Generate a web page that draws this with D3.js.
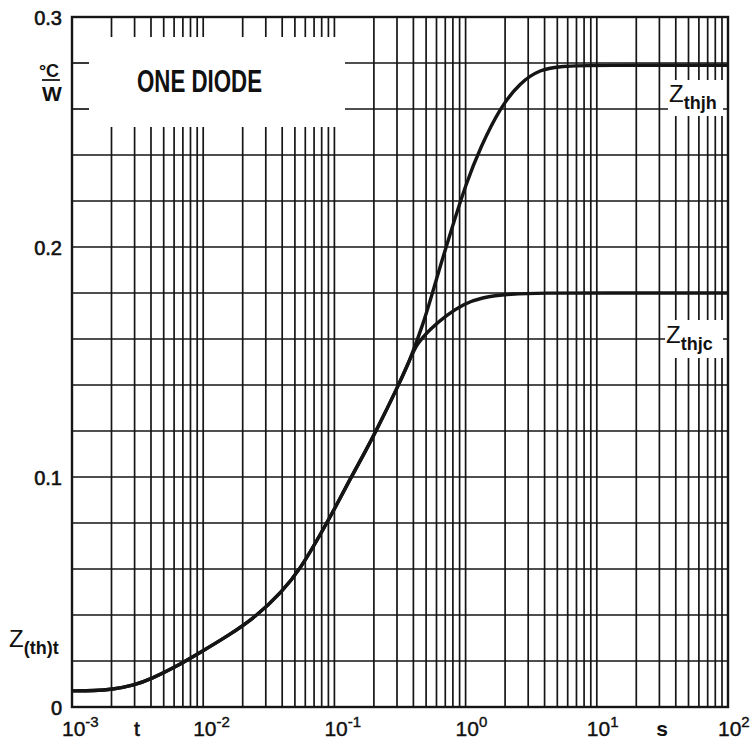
<!DOCTYPE html>
<html>
<head>
<meta charset="utf-8">
<script src="https://cdn.jsdelivr.net/npm/d3@7"></script>
<style>
  body { margin: 0; background: #fff; }
  text { font-family: "Liberation Sans", Arial, Helvetica, sans-serif; fill: #111; }
</style>
</head>
<body>
<svg width="753" height="745"></svg>
<script>
// curve values (t in s, Z in °C/W)
const timeShared = [0.001, 0.0015, 0.002, 0.003, 0.004, 0.006, 0.01, 0.015, 0.025, 0.04, 0.055, 0.08, 0.1, 0.13, 0.17, 0.21, 0.3, 0.38];
const zShared = [0.0070, 0.0071, 0.0076, 0.0095, 0.0122, 0.0170, 0.0245, 0.0305, 0.0390, 0.0502, 0.0600, 0.0760, 0.0860, 0.0985, 0.1105, 0.1205, 0.1385, 0.1515];

const timeJc = [0.42, 0.54, 0.72, 0.97, 1.3, 2.2, 4, 10, 100];
const zthjc = [0.1575, 0.1645, 0.1705, 0.1752, 0.178, 0.1797, 0.18, 0.18, 0.18];

const timeJh = [0.42, 0.47, 0.54, 0.65, 0.8, 1.0, 1.3, 1.85, 2.6, 3.7, 5.3, 10, 100];
const zthjh = [0.1585, 0.166, 0.177, 0.193, 0.2095, 0.227, 0.2435, 0.261, 0.2715, 0.2772, 0.2787, 0.279, 0.279];

const yLabels = [0, 0.1, 0.2, 0.3];
const xDecades = [-3, -2, -1, 0, 1, 2];

var svg = d3.select("svg");
var mLeft = 72, mRight = 728, mTop = 17, mBottom = 707;

var x = d3.scaleLog().domain([1e-3, 1e2]).range([mLeft, mRight]);
var y = d3.scaleLinear().domain([0, 0.3]).range([mBottom, mTop]);

var ink = "#151515";

// grid
var grid = svg.append("g").attr("stroke", ink).attr("stroke-width", 1.7);
grid.selectAll(".v")
    .data(x.ticks())
    .enter()
    .append("line")
    .attr("x1", d => x(d)).attr("x2", d => x(d))
    .attr("y1", mTop).attr("y2", mBottom);
grid.selectAll(".h")
    .data(y.ticks(15))
    .enter()
    .append("line")
    .attr("x1", mLeft).attr("x2", mRight)
    .attr("y1", d => y(d)).attr("y2", d => y(d));

// white patches behind the title and the curve labels
var boxTitle = { x: mLeft, y: mTop, w: 273, h: 110 };
svg.append("rect").attr("x", boxTitle.x).attr("y", boxTitle.y)
    .attr("width", boxTitle.w).attr("height", boxTitle.h).attr("fill", "#fff");
svg.append("rect").attr("x", 668).attr("y", 80).attr("width", 55).attr("height", 36).attr("fill", "#fff");
svg.append("rect").attr("x", 665).attr("y", 320).attr("width", 58).attr("height", 38).attr("fill", "#fff");

// short ticks along the border inside the title patch
var ticks = svg.append("g").attr("stroke", ink).attr("stroke-width", 1.7);
ticks.selectAll("line.tx")
    .data(x.ticks().filter(d => x(d) > mLeft + 2 && x(d) < boxTitle.x + boxTitle.w))
    .enter()
    .append("line")
    .attr("x1", d => x(d)).attr("x2", d => x(d))
    .attr("y1", mTop).attr("y2", mTop + 20);
ticks.selectAll("line.ty")
    .data(y.ticks(15).filter(d => y(d) > mTop + 2 && y(d) < boxTitle.y + boxTitle.h))
    .enter()
    .append("line")
    .attr("x1", mLeft).attr("x2", mLeft + 17)
    .attr("y1", d => y(d)).attr("y2", d => y(d));

// frame
svg.append("rect")
    .attr("x", mLeft).attr("y", mTop)
    .attr("width", mRight - mLeft).attr("height", mBottom - mTop)
    .attr("fill", "none").attr("stroke", ink).attr("stroke-width", 2.4);

// curves
var line = d3.line()
    .x(d => x(d[0]))
    .y(d => y(d[1]))
    .curve(d3.curveBasis);

var shared = d3.zip(timeShared, zShared);
var jc = shared.concat(d3.zip(timeJc, zthjc));
var jh = shared.concat(d3.zip(timeJh, zthjh));

svg.selectAll("path.curve")
    .data([jc, jh])
    .enter()
    .append("path")
    .attr("d", line)
    .attr("fill", "none")
    .attr("stroke", ink)
    .attr("stroke-width", 3.4)
    .attr("stroke-linejoin", "round");

// y labels
svg.selectAll("text.yl")
    .data(yLabels)
    .enter()
    .append("text")
    .attr("x", 62)
    .attr("y", d => y(d) + 8)
    .attr("text-anchor", "end")
    .style("font-size", "20px")
    .style("stroke", "#111").style("stroke-width", 0.6)
    .text(d => d === 0 ? "0" : d.toFixed(1));

// x labels 10^n
var xl = svg.selectAll("text.xl")
    .data(xDecades)
    .enter()
    .append("text")
    .attr("x", d => x(Math.pow(10, d)) - 10)
    .attr("y", 736)
    .style("font-size", "21px")
    .style("stroke", "#111").style("stroke-width", 0.4);
xl.append("tspan").text("10");
xl.append("tspan").attr("dy", -9).style("font-size", "15px").text(d => d);

svg.append("text").attr("x", 137).attr("y", 736).attr("text-anchor", "middle")
    .style("font-size", "21px").style("stroke", "#111").style("stroke-width", 0.6).text("t");
svg.append("text").attr("x", 662).attr("y", 736).attr("text-anchor", "middle")
    .style("font-size", "21px").style("font-weight", "bold").text("s");

// unit °C / W
svg.append("text").attr("x", 49).attr("y", 77).attr("text-anchor", "middle")
    .style("font-size", "18px").style("font-weight", "bold").text("°C");
svg.append("line").attr("x1", 42).attr("x2", 60).attr("y1", 80).attr("y2", 80)
    .attr("stroke", ink).attr("stroke-width", 1.8);
svg.append("text").attr("x", 52).attr("y", 101).attr("text-anchor", "middle")
    .style("font-size", "21px").style("font-weight", "bold").text("W");

// title
svg.append("text").attr("x", 137).attr("y", 92)
    .attr("textLength", 125).attr("lengthAdjust", "spacingAndGlyphs")
    .style("font-size", "32px").style("font-weight", "bold").text("ONE DIODE");

// Z labels
function zLabel(px, py, sub) {
    var t = svg.append("text").attr("x", px).attr("y", py).style("font-size", "24px");
    t.append("tspan").text("Z");
    t.append("tspan").attr("dy", 7).style("font-size", "18px").style("font-weight", "bold").text(sub);
}
zLabel(9, 647, "(th)t");
zLabel(669, 102, "thjh");
zLabel(666, 343, "thjc");
</script>
</body>
</html>
